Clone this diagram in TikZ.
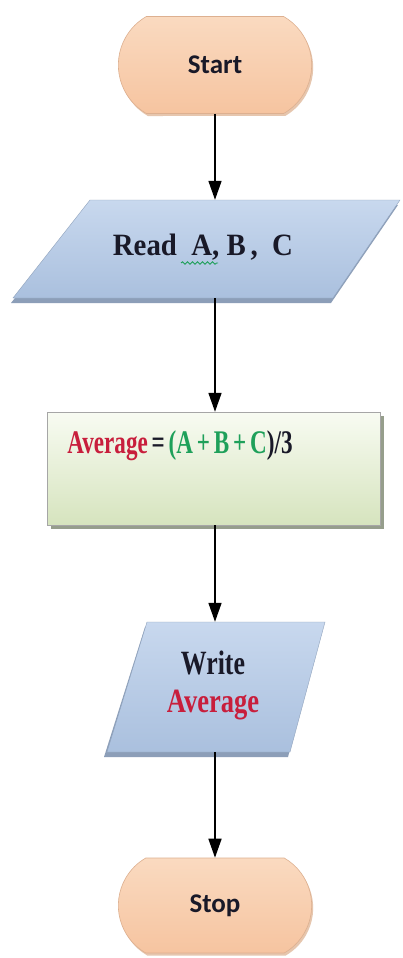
\documentclass[tikz,border=0pt]{standalone}
\usepackage{fontspec}
\setmainfont{Liberation Serif}
\newfontfamily\cali{Carlito}
\usetikzlibrary{arrows.meta,shapes.misc,shadows,decorations.pathmorphing}
\definecolor{peachA}{RGB}{250,218,192}
\definecolor{peachB}{RGB}{246,196,160}
\definecolor{peachS}{RGB}{214,160,120}
\definecolor{blueA}{RGB}{200,216,238}
\definecolor{blueB}{RGB}{170,192,222}
\definecolor{blueS}{RGB}{140,158,184}
\definecolor{grnA}{RGB}{248,251,242}
\definecolor{grnB}{RGB}{214,228,190}
\definecolor{grnS}{RGB}{150,158,140}
\definecolor{txtred}{RGB}{200,30,60}
\definecolor{txtgrn}{RGB}{30,160,90}
\definecolor{txtdark}{RGB}{25,25,40}
\tikzset{
  term/.style={rounded rectangle, rounded rectangle arc length=120,
    minimum width=200pt, minimum height=97pt,
    top color=peachA, bottom color=peachB, draw=peachB!90!black, line width=0.6pt,
    drop shadow={shadow xshift=1.5pt, shadow yshift=-2.5pt, fill=peachS, opacity=0.6},
    font=\cali\bfseries\fontsize{27}{30}\selectfont, text=txtdark},
  ghost/.style={inner sep=0pt, minimum height=#1},
  flow/.style={line width=1.6pt, -{Triangle[length=19pt,width=13pt]}},
}
\begin{document}
\begin{tikzpicture}[x=1pt,y=-1pt]
\useasboundingbox (0,0) rectangle (403,958);
\fill[white] (0,0) rectangle (403,958);
% Start
\node[term] (start) at (215,65) {Start};
% Read parallelogram
\fill[blueS] (88,205)--(398,205)--(331,303)--(11,303)--cycle;
\shade[top color=blueA, bottom color=blueB, draw=blueB!85!black, line width=0.4pt]
  (90,200)--(400,200)--(333,298)--(13,298)--cycle;
\node[ghost=98pt, minimum width=10pt] (readbox) at (215,249) {};
\node[inner sep=0pt, font=\bfseries\fontsize{31}{34}\selectfont, text=txtdark] (readtxt) at (203,247)
  {\scalebox{0.93}[1]{Read\ \ A, B\,,\ \ C}};
\draw[txtgrn, line width=0.9pt, decorate, decoration={snake, amplitude=1.2pt, segment length=5pt}]
  (181,263) -- (218,263);
% Process rectangle
\fill[grnS] (51,416) rectangle (384,529);
\shade[top color=grnA, bottom color=grnB, draw=gray!70, line width=0.6pt]
  (47,412) rectangle (380,525);
\node[ghost=113pt, minimum width=10pt] (proc) at (215,468.5) {};
\node[inner sep=0pt, font=\bfseries\fontsize{33}{36}\selectfont] (proctxt) at (180,446)
  {\scalebox{0.7}[1]{\textcolor{txtred}{Average}\textcolor{txtdark}{\,=\,}\textcolor{txtgrn}{(A\,+\,B\,+\,C}\textcolor{txtdark}{)/3}}};
% Write parallelogram
\fill[blueS] (145,627)--(323,627)--(288,757)--(104,757)--cycle;
\shade[top color=blueA, bottom color=blueB, draw=blueB!85!black, line width=0.4pt]
  (147,622)--(325,622)--(290,752)--(107,752)--cycle;
\node[ghost=130pt, minimum width=10pt] (writebox) at (215,687) {};
\node[inner sep=0pt, align=center, font=\bfseries\fontsize{34}{40}\selectfont] (writetxt) at (213,685)
  {\scalebox{0.76}[1]{\textcolor{txtdark}{Write}}\\[-2pt]\scalebox{0.78}[1]{\textcolor{txtred}{Average}}};
% Stop
\node[term, minimum height=95pt] (stop) at (215,905.5) {Stop};
% Connectors
\draw[flow] (start.south) -- (readbox.north);
\draw[flow] (readbox.south) -- (proc.north);
\draw[flow] (proc.south) -- (writebox.north);
\draw[flow] (writebox.south) -- (stop.north);
\end{tikzpicture}
\end{document}
